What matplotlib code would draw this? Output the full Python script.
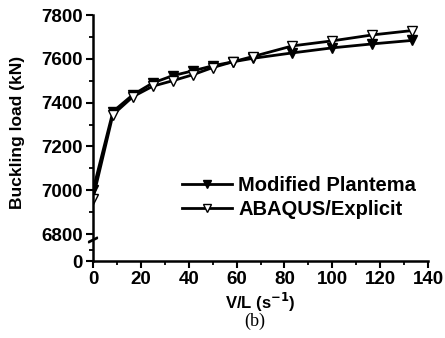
import matplotlib
matplotlib.use("Agg")
import matplotlib.pyplot as plt
from matplotlib.ticker import MultipleLocator

vl = [0, 8.33, 16.67, 25, 33.33, 41.67, 50, 58.33, 66.67, 83.33, 100, 116.67, 133.33]
plantema = [7000, 7359, 7436, 7490, 7523, 7545, 7568, 7586, 7602, 7627, 7650, 7668, 7684]
abaqus = [6962, 7345, 7427, 7475, 7500, 7527, 7560, 7586, 7610, 7659, 7682, 7709, 7729]

plt.rcParams['font.family'] = ['Liberation Sans', 'DejaVu Sans']
plt.rcParams['font.weight'] = 'bold'

fig = plt.figure(figsize=(4.45, 3.38), dpi=100)
L, R = 0.209, 0.962
ax = fig.add_axes([L, 0.296, R - L, 0.9556 - 0.296])
axb = fig.add_axes([L, 0.2278, R - L, 0.059])

lw = 2.0
ax.plot(vl, plantema, color='black', lw=lw, marker='v', ms=7, mfc='black', mec='black',
        label='Modified Plantema')
ax.plot(vl, abaqus, color='black', lw=lw, marker='v', ms=7, mfc='white', mec='black',
        mew=1.0, label='ABAQUS/Explicit')

for a in (ax, axb):
    a.set_xlim(0, 140)
    for s in ('top', 'right'):
        a.spines[s].set_visible(False)
    a.spines['left'].set_linewidth(1.8)
    a.spines['bottom'].set_linewidth(1.8)
    a.tick_params(which='major', direction='out', length=5, width=1.5, labelsize=13.5, pad=2.5)
    a.tick_params(which='minor', direction='out', length=3, width=1.3)

ax.set_ylim(6782, 7800)
ax.yaxis.set_major_locator(MultipleLocator(200))
ax.yaxis.set_minor_locator(MultipleLocator(100))
ax.spines['bottom'].set_visible(False)
ax.tick_params(axis='x', which='both', bottom=False, labelbottom=False)

axb.set_ylim(0, 1)
axb.set_yticks([0])
axb.set_yticks([0.55], minor=True)
axb.xaxis.set_major_locator(MultipleLocator(20))
axb.xaxis.set_minor_locator(MultipleLocator(10))
axb.patch.set_visible(False)

# break marks
for yy in (0.0, 0.2):
    axb.plot([-0.012, 0.012], [0.93 + yy * 0.25, 1.13 + yy * 0.25], transform=axb.transAxes,
             color='black', lw=1.3, clip_on=False)

ax.set_ylabel('Buckling load (kN)', fontsize=12.5, fontweight='bold')
ax.yaxis.set_label_coords(-0.203, 0.475)
axb.set_xlabel('V/L (s$^{\\mathbf{-1}}$)', fontsize=12, fontweight='bold', labelpad=2)

leg = ax.legend(loc='lower right', bbox_to_anchor=(1.0, 0.03), frameon=False,
                prop={'size': 14.5, 'weight': 'bold'}, handlelength=2.5, labelspacing=0.25,
                handletextpad=0.3, borderaxespad=0.2, markerscale=0.75)

fig.text(0.573, 0.035, '(b)', family=['Liberation Serif', 'DejaVu Serif'], fontweight='normal',
         fontsize=13, ha='center')

fig.savefig('out.png', dpi=100)
